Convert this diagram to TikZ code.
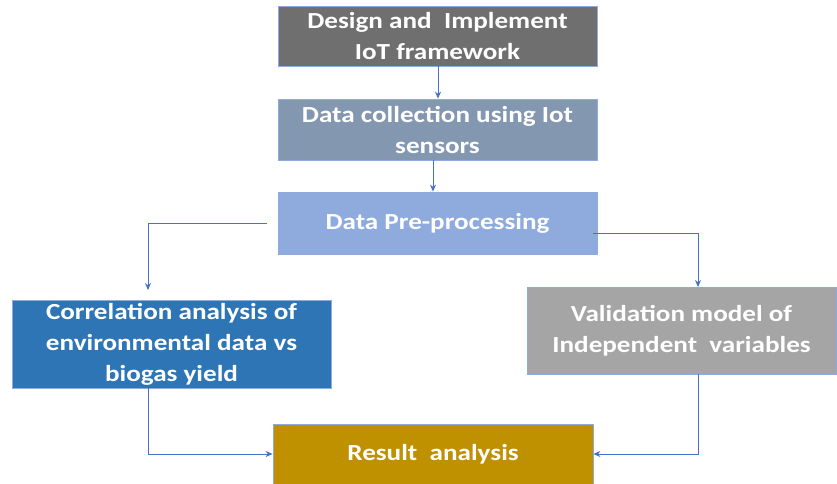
\documentclass[tikz,border=0pt]{standalone}
\usepackage{fontspec}
\setmainfont{Carlito}
\newfontfamily\boxfont[FakeStretch=1.18]{Carlito}
\usetikzlibrary{arrows.meta}
\definecolor{edgeblue}{HTML}{8FAADC}
\definecolor{arrowblue}{HTML}{4472C4}
\definecolor{fillA}{HTML}{6F6F6F}
\definecolor{fillB}{HTML}{8497B0}
\definecolor{fillC}{HTML}{8FAADC}
\definecolor{fillD}{HTML}{2E75B6}
\definecolor{fillE}{HTML}{A5A5A5}
\definecolor{fillF}{HTML}{BF9000}
\tikzset{
  stepbox/.style={draw=edgeblue, line width=0.8pt, inner sep=0pt, align=center,
    text=white, font=\boxfont\fontsize{23}{31}\selectfont\bfseries},
  flow/.style={draw=arrowblue, line width=0.9pt, -{Stealth[length=7pt,width=6pt]}}
}
\begin{document}
\begin{tikzpicture}[x=1pt,y=-1pt]
\useasboundingbox (0,0) rectangle (837,483);
\node[stepbox, fill=fillA, minimum width=319pt, minimum height=60pt] (design) at (437.5,36)
  {Design and\ \ Implement\\IoT framework};
\node[stepbox, fill=fillB, minimum width=319pt, minimum height=61pt] (collect) at (437.5,129.5)
  {Data collection using Iot\\sensors};
\node[stepbox, fill=fillC, minimum width=319pt, minimum height=62pt] (prep) at (437.5,223)
  {Data Pre-processing};
\node[stepbox, fill=fillD, minimum width=319pt, minimum height=88pt] (corr) at (171.5,344)
  {Correlation analysis of\\environmental data vs\\biogas yield};
\node[stepbox, fill=fillE, minimum width=309pt, minimum height=87pt] (valid) at (681.5,330.5)
  {Validation model of\\Independent\ \ variables};
\node[stepbox, fill=fillF, minimum width=320pt, minimum height=60pt] (result) at (433,454)
  {Result\ \ analysis};

% bend points of the side connectors
\coordinate (leftStart) at (267,223);
\coordinate (leftTop) at (148,223);
\coordinate (leftIn) at (148,290);
\coordinate (leftOut) at (148,388);
\coordinate (rightStart) at (593,233);
\coordinate (rightTop) at (698,233);
\coordinate (rightIn) at (698,287);
\coordinate (rightOut) at (698,374);

\draw[flow] ([xshift=0.5pt]design.south) -- ([xshift=0.5pt]collect.north);
\draw[flow] ([xshift=-4.5pt]collect.south) -- ([xshift=-4.5pt]prep.north);
\draw[flow] (leftStart) -- (leftTop) -- (leftIn);
\draw[flow] (rightStart) -- (rightTop) -- (rightIn);
\draw[flow] (leftOut) |- (result.west);
\draw[flow] (rightOut) |- (result.east);
\end{tikzpicture}
\end{document}
